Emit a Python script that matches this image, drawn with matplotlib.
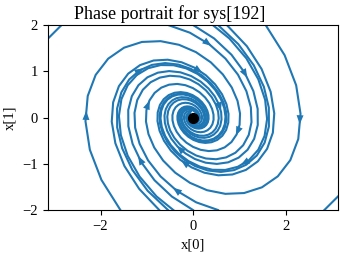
"""Phase portrait of a damped linear oscillator (sys[192])."""

import numpy as np
import matplotlib.pyplot as plt
from matplotlib.patches import FancyArrowPatch, ArrowStyle

plt.rcParams['font.family'] = 'serif'
plt.rcParams['font.serif'] = ['Liberation Serif', 'DejaVu Serif']
plt.rcParams['font.size'] = 10.5

# dynamics dx/dt = A @ x, fitted to the outer streamline
A = np.array([[0.0, 1.0],
              [-1.01, -0.51]])

# points where the streamlines enter the box
start_x0 = [1.57, 0.73, 0.54, 0.0, -0.54, -np.pi,
            -1.57, -0.73, -0.54, 0.0, 0.54, np.pi]
start_x1 = [2.0, 2.0, 2.0, 2.0, 2.0, 1.7,
            -2.0, -2.0, -2.0, -2.0, -2.0, -1.7]

# where the direction arrows sit on the streamlines
arrow_x0 = [0.36, 1.16, 0.15, -1.12, -1.05, 0.61, 2.35,
            0.97, 1.08, -0.29, -0.22, -1.23, -0.43, -2.38]
arrow_x1 = [1.60, 0.92, 0.99, 1.03, 0.34, 0.20, -0.09,
            -0.34, -0.99, -0.63, -0.97, -0.92, -1.60, 0.09]

equilibrium = (0.0, 0.0)
xlim = (-np.pi, np.pi)
ylim = (-2, 2)
t_final = 12
n_pts = 50
color = '#1f77b4'


def simulate(x0, substeps=20):
    """RK4 integration, sampled at n_pts points."""
    dt = t_final / (n_pts - 1) / substeps
    x = np.array(x0, dtype=float)
    out = [x.copy()]
    for _ in range(n_pts - 1):
        for _ in range(substeps):
            k1 = A @ x
            k2 = A @ (x + dt / 2 * k1)
            k3 = A @ (x + dt / 2 * k2)
            k4 = A @ (x + dt * k3)
            x = x + dt / 6 * (k1 + 2 * k2 + 2 * k3 + k4)
        out.append(x.copy())
    return np.array(out).T


def nearest_on_lines(p, lines):
    """Closest point to p on any of the drawn polylines."""
    best, best_d = None, np.inf
    for xs, ys in lines:
        a = np.column_stack([xs[:-1], ys[:-1]])
        b = np.column_stack([xs[1:], ys[1:]])
        ab = b - a
        L2 = np.maximum((ab ** 2).sum(1), 1e-12)
        t = np.clip(((p - a) * ab).sum(1) / L2, 0, 1)
        q = a + t[:, None] * ab
        d = np.hypot(*(q - p).T)
        i = np.argmin(d)
        if d[i] < best_d:
            best, best_d = q[i], d[i]
    return best


fig = plt.figure(figsize=(3.4, 2.54), dpi=100)
ax = fig.add_axes([0.1403, 0.1732, 0.8547, 0.7284])

lines = []
for x0, x1 in zip(start_x0, start_x1):
    traj = simulate((x0, x1))
    inside = ((traj[0] >= xlim[0]) & (traj[0] <= xlim[1]) &
              (traj[1] >= ylim[0]) & (traj[1] <= ylim[1]))
    keep = inside.copy()
    keep[:-1] |= inside[1:]
    keep[1:] |= inside[:-1]
    xs, ys = traj[0][keep], traj[1][keep]
    ax.plot(xs, ys, color=color, lw=1.5)
    lines.append((xs, ys))

style = ArrowStyle('simple', head_width=5, head_length=6.5)
for px, py in zip(arrow_x0, arrow_x1):
    q = nearest_on_lines(np.array([px, py]), lines)
    u = A @ q
    u = u / np.hypot(*u)
    ax.add_patch(FancyArrowPatch(tuple(q - 0.06 * u), tuple(q + 0.06 * u),
                                 arrowstyle=style, color=color, lw=0))

ax.plot(*equilibrium, 'ko', ms=7)

ax.set_xlim(*xlim)
ax.set_ylim(*ylim)
ax.set_xticks([-2, 0, 2])
ax.set_yticks([-2, -1, 0, 1, 2])
ax.set_xlabel('x[0]')
ax.set_ylabel('x[1]')
fig.suptitle('Phase portrait for sys[192]', fontsize=13)

fig.savefig('out.png', dpi=100)
